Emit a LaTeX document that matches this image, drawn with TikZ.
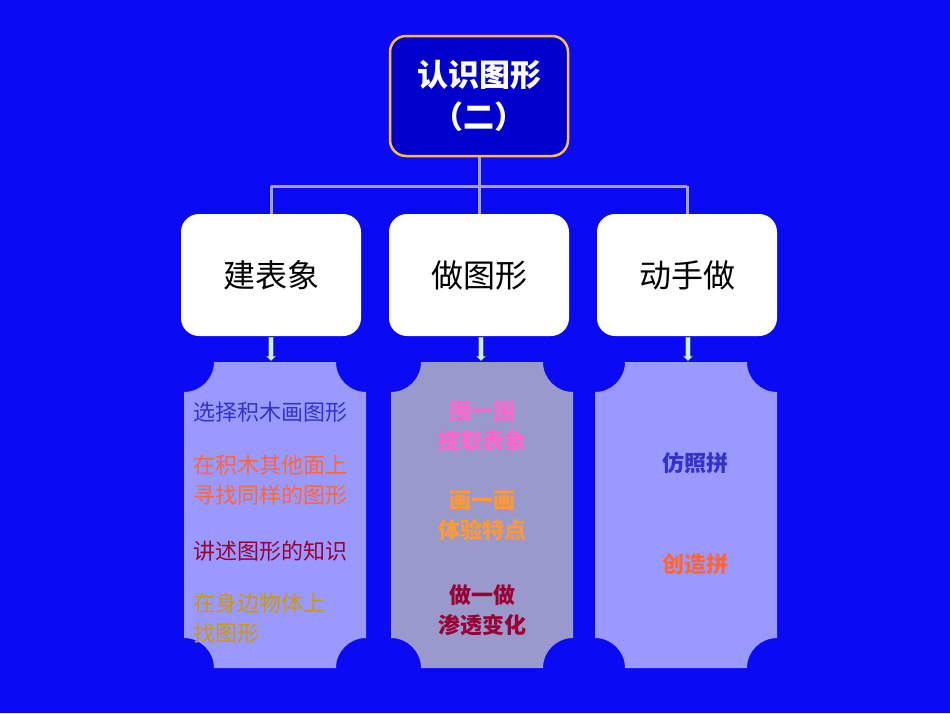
\documentclass[tikz,border=0pt]{standalone}
\usepackage{fontspec}
\setmainfont{Noto Sans CJK SC}
\usetikzlibrary{shapes.arrows}
\definecolor{bg}{HTML}{0A0AF5}
\definecolor{topfill}{HTML}{0000CC}
\definecolor{pa}{HTML}{9999FF}
\definecolor{pb}{HTML}{9999CC}
\definecolor{tb}{HTML}{3333CC}
\definecolor{tor}{HTML}{FF6633}
\definecolor{tr}{HTML}{990033}
\definecolor{ty}{HTML}{CC9900}
\definecolor{tp}{HTML}{FF66CC}
\definecolor{to}{HTML}{FF9933}
\tikzset{x=1pt,y=-1pt,
 box/.style={draw=none,fill=white,rounded corners=18pt,minimum width=180pt,minimum height=122pt,font=\fontsize{32}{36}\selectfont},
 conn/.style={draw=gray!70,line width=3pt},
 arr/.style={single arrow,draw=gray!60!black,fill=cyan!20,minimum height=24pt,minimum width=10pt,single arrow head extend=2pt,inner sep=1.5pt,shape border rotate=270},
 ptxt/.style={font=\fontsize{22}{30}\selectfont,align=left,anchor=west},
 ctxt/.style={font=\bfseries\fontsize{22}{30}\selectfont,align=center,anchor=center}}
\newcommand{\panel}[3]{\fill[#3] (#1,#2+30) arc[start angle=90,end angle=0,radius=30] -- (#1+152,#2) arc[start angle=180,end angle=90,radius=30] -- (#1+182,#2+276) arc[start angle=270,end angle=180,radius=30] -- (#1+30,#2+306) arc[start angle=0,end angle=-90,radius=30] -- cycle;}
\begin{document}
\begin{tikzpicture}
\fill[bg] (0,0) rectangle (950,713);
\useasboundingbox (0,0) rectangle (950,713);
\node[draw={rgb,255:red,255;green,190;blue,60},line width=2.5pt,fill=topfill,rounded corners=16pt,minimum width=178pt,minimum height=120pt,text=white,font=\bfseries\fontsize{31}{42}\selectfont,align=center] (top) at (479,96) {认识图形\\（二）};
\node[box] (a) at (271,275) {建表象};
\node[box] (b) at (479,275) {做图形};
\node[box] (c) at (687,275) {动手做};
\coordinate (j) at (479,186);
\coordinate (ja) at (271,186);
\coordinate (jc) at (687,186);
\draw[conn] (top.south) -- (j);
\draw[conn] (ja) -- (jc);
\draw[conn] (ja) -- (a.north);
\draw[conn] (jc) -- (c.north);
\draw[conn] (j) -- (b.north);
\panel{184}{362}{pa}
\panel{391}{362}{pb}
\panel{595}{362}{pa}
\node[arr] (xa) at (271,348) {};
\node[arr] (xb) at (481,348) {};
\node[arr] (xc) at (688,348) {};
\node[ptxt,text=tb] (l1) at (190,412) {选择积木画图形};
\node[ptxt,text=tor] (l2) at (190,480) {在积木其他面上\\寻找同样的图形};
\node[ptxt,text=tr] (l3) at (190,551) {讲述图形的知识};
\node[ptxt,text=ty] (l4) at (190,618) {在身边物体上\\找图形};
\node[ctxt,text=tp] (m1) at (482,426) {围一围\\提取表象};
\node[ctxt,text=to] (m2) at (482,516) {画一画\\体验特点};
\node[ctxt,text=tr] (m3) at (482,610) {做一做\\渗透变化};
\node[ctxt,text=tb] (r1) at (695,463) {仿照拼};
\node[ctxt,text=tor] (r2) at (695,564) {创造拼};
\end{tikzpicture}
\end{document}
